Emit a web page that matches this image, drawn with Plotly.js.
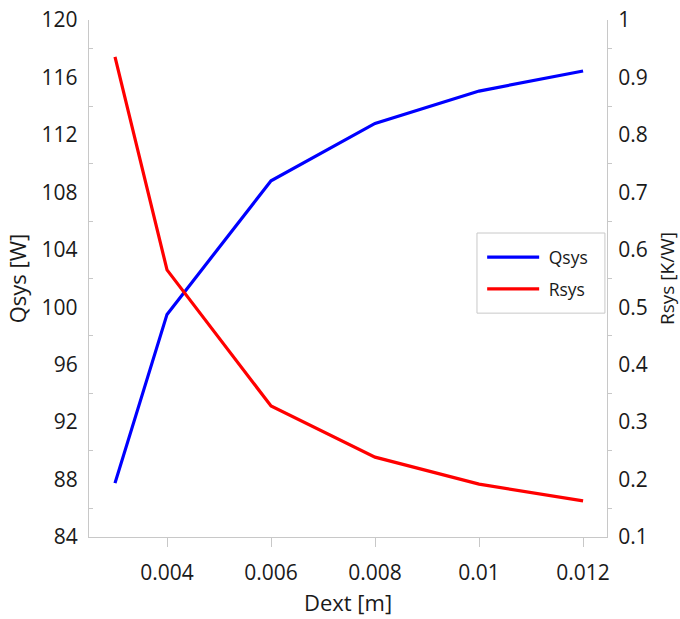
<!DOCTYPE html>
<html>
<head>
<meta charset="utf-8">
<script src="https://cdn.plot.ly/plotly-3.0.1.min.js"></script>
<style>html,body{margin:0;padding:0;background:#fff;}#chart{width:680px;height:619px;}</style>
</head>
<body>
<div id="chart"></div>
<script>
const dext = [0.003, 0.004, 0.006, 0.008, 0.010, 0.012];
const qsys = [87.75, 99.5, 108.8, 112.8, 115.05, 116.45];
const rsys = [0.936, 0.565, 0.328, 0.239, 0.192, 0.163];
const seriesNames = ["Qsys", "Rsys"];
const xTicks = [0.004, 0.006, 0.008, 0.010, 0.012];
const xTickText = ["0.004", "0.006", "0.008", "0.01", "0.012"];

const fontFam = "Open Sans, sans-serif";
const axisCol = "#c8c8c8";
const textCol = "#1a1a1a";

const traces = [
  {x: dext, y: qsys, name: "\u00a0" + seriesNames[0], type: "scatter", mode: "lines", legendgroup: "q",
   line: {color: "#0000ff", width: 3.2}, yaxis: "y"},
  {x: dext, y: rsys, name: "\u00a0" + seriesNames[1], type: "scatter", mode: "lines", legendgroup: "r",
   line: {color: "#ff0000", width: 3.2}, yaxis: "y2"}
];

const layout = {
  width: 680, height: 619,
  margin: {l: 89, r: 73, t: 20, b: 82},
  paper_bgcolor: "#ffffff", plot_bgcolor: "#ffffff",
  font: {family: fontFam, size: 21, color: textCol},
  showlegend: true,
  legend: {x: 0.759, y: 0.576, xanchor: "left", yanchor: "top",
           borderwidth: 0, bgcolor: "rgba(0,0,0,0)",
           font: {size: 17.5, color: textCol}, tracegroupgap: 6,
           itemwidth: 52},
  shapes: [{type: "rect", xref: "paper", yref: "paper",
            x0: 0.749, x1: 0.996, y0: 0.433, y1: 0.588,
            line: {color: "#c8c8c8", width: 1}, fillcolor: "#ffffff", layer: "above"}],
  xaxis: {
    range: [0.0025, 0.01246], tickvals: xTicks, ticktext: xTickText,
    showgrid: false, zeroline: false, showline: true, linecolor: axisCol, linewidth: 1.3,
    ticks: "outside", ticklen: 9, tickcolor: axisCol, tickwidth: 1.3,
    ticklabelstandoff: 8,
    title: {text: "Dext [m]", font: {size: 22, color: textCol}, standoff: 10}
  },
  yaxis: {
    range: [84, 120], dtick: 4, tick0: 84,
    showgrid: false, zeroline: false, showline: true, linecolor: axisCol, linewidth: 1.3,
    ticks: "", ticklabelstandoff: 6,
    minor: {dtick: 2, tick0: 84, ticks: "inside", ticklen: 4, tickcolor: axisCol, tickwidth: 1.3, showgrid: false},
    title: {text: "Qsys [W]", font: {size: 22, color: textCol}, standoff: 8}
  },
  yaxis2: {
    range: [0.1, 1], dtick: 0.1, tick0: 0.1, overlaying: "y", side: "right",
    showgrid: false, zeroline: false, showline: true, linecolor: axisCol, linewidth: 1.3,
    ticks: "", ticklabelstandoff: 6,
    minor: {dtick: 0.05, tick0: 0.1, ticks: "outside", ticklen: 4, tickcolor: axisCol, tickwidth: 1.3, showgrid: false},
    title: {text: "Rsys [K/W]", font: {size: 19, color: textCol}, standoff: 14}
  }
};

Plotly.newPlot("chart", traces, layout, {displayModeBar: false, responsive: false});
</script>
</body>
</html>
